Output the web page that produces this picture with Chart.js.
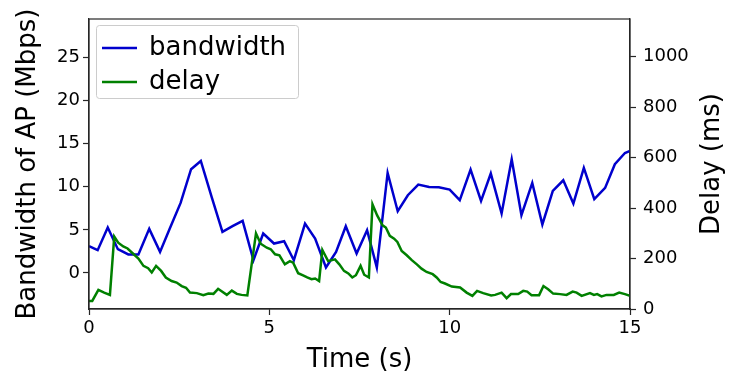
<!DOCTYPE html>
<html>
<head>
<meta charset="utf-8">
<script src="https://cdn.jsdelivr.net/npm/chart.js@4/dist/chart.umd.min.js"></script>
<style>
  html, body { margin: 0; padding: 0; background: #fff; }
  #wrap { position: relative; width: 736px; height: 377px; }
</style>
</head>
<body>
<div id="wrap"><canvas id="chart" width="736" height="377"></canvas></div>
<script>
// --- data ---
const bwTime = [0, 0.24, 0.52, 0.80, 1.09, 1.37, 1.67, 1.97, 2.24, 2.54, 2.83, 3.10, 3.40, 3.70, 3.98, 4.26, 4.56, 4.83, 5.13, 5.41,
  5.68, 5.99, 6.27, 6.57, 6.85, 7.12, 7.42, 7.71, 7.98, 8.28, 8.56, 8.84, 9.13, 9.43, 9.70, 10.00, 10.28, 10.58, 10.87, 11.14,
  11.44, 11.72, 11.99, 12.29, 12.57, 12.86, 13.15, 13.43, 13.72, 14.01, 14.31, 14.58, 14.86, 15.0];
const bandwidth = [3.1, 2.64, 5.27, 2.75, 2.14, 2.14, 5.11, 2.44, 5.15, 8.13, 12.04, 13.0, 8.82, 4.76, 5.42, 6.04, 1.47, 4.57, 3.41, 3.68,
  1.47, 5.73, 3.99, 0.63, 2.44, 5.42, 2.25, 4.96, 0.63, 11.61, 7.16, 9.02, 10.26, 9.98, 9.95, 9.68, 8.44, 12.0, 8.36, 11.54,
  6.9, 13.2, 6.7, 10.45, 5.62, 9.52, 10.76, 8.06, 12.19, 8.56, 9.87, 12.62, 13.93, 14.16];

const delayTime = [0, 0.09, 0.26, 0.42, 0.58, 0.70, 0.81, 0.95, 1.07, 1.21, 1.37, 1.51, 1.64, 1.74, 1.86, 2.00, 2.13, 2.29, 2.43, 2.57,
  2.69, 2.80, 2.99, 3.17, 3.31, 3.45, 3.58, 3.82, 3.96, 4.10, 4.23, 4.39, 4.63, 4.76, 4.93, 5.04, 5.16, 5.28, 5.43, 5.57,
  5.66, 5.80, 5.92, 6.05, 6.17, 6.27, 6.38, 6.47, 6.63, 6.82, 6.94, 7.07, 7.19, 7.30, 7.40, 7.53, 7.63, 7.76, 7.86, 7.99,
  8.14, 8.23, 8.34, 8.46, 8.55, 8.67, 8.81, 8.95, 9.09, 9.22, 9.36, 9.53, 9.64, 9.75, 9.87, 10.06, 10.29, 10.47, 10.63, 10.76,
  10.93, 11.15, 11.26, 11.44, 11.58, 11.70, 11.90, 12.04, 12.15, 12.27, 12.48, 12.60, 12.73, 12.87, 13.06, 13.24, 13.41, 13.52, 13.66, 13.89,
  14.00, 14.09, 14.21, 14.35, 14.55, 14.70, 14.86, 15.00];
const delay = [32, 32, 76, 65, 56, 287, 263, 248, 240, 221, 200, 171, 162, 145, 171, 151, 125, 111, 105, 91,
  84, 65, 63, 55, 61, 60, 80, 56, 73, 60, 56, 54, 300, 259, 243, 237, 217, 213, 177, 190,
  184, 142, 134, 125, 118, 121, 111, 234, 190, 197, 177, 151, 141, 125, 134, 171, 136, 125, 415, 371,
  332, 323, 290, 279, 266, 230, 213, 194, 177, 160, 147, 138, 125, 107, 101, 89, 85, 65, 52, 72,
  63, 54, 56, 65, 43, 59, 59, 72, 69, 55, 55, 91, 78, 61, 59, 56, 69, 65, 52, 63,
  56, 59, 50, 56, 56, 65, 59, 52];

const xTicks = [0, 5, 10, 15];
const bwTicks = [0, 5, 10, 15, 20, 25];
const delayTicks = [0, 200, 400, 600, 800, 1000];

const FONT = "'DejaVu Sans', sans-serif";
const AXIS = '#262626';
const BLUE = '#0000CD';
const GREEN = '#008000';
const TICK_SIZE = 18;
const LABEL_SIZE = 26;

// --- frame, right title, legend ---
const extras = {
  id: 'extras',
  afterDraw(chart) {
    const { ctx, chartArea: a } = chart;
    ctx.save();
    ctx.strokeStyle = AXIS;
    ctx.lineWidth = 1.2;
    ctx.strokeRect(a.left, a.top, a.right - a.left, a.bottom - a.top);

    // right axis title, reading bottom-to-top
    ctx.fillStyle = '#000';
    ctx.font = LABEL_SIZE + 'px ' + FONT;
    ctx.textAlign = 'center';
    ctx.textBaseline = 'middle';
    ctx.translate(712, (a.top + a.bottom) / 2);
    ctx.rotate(-Math.PI / 2);
    ctx.fillText('Delay (ms)', 0, 0);
    ctx.restore();

    // legend
    ctx.save();
    const bx = a.left + 7, by = a.top + 6, bw = 202, bh = 73;
    ctx.fillStyle = 'rgba(255,255,255,0.8)';
    ctx.strokeStyle = '#cccccc';
    ctx.lineWidth = 1;
    ctx.beginPath();
    ctx.roundRect(bx + 0.5, by + 0.5, bw, bh, 3);
    ctx.fill();
    ctx.stroke();
    ctx.font = LABEL_SIZE + 'px ' + FONT;
    ctx.textBaseline = 'middle';
    ctx.textAlign = 'left';
    chart.data.datasets.slice().reverse().forEach((ds, i) => {
      const y = by + 23 + i * 34;
      ctx.strokeStyle = ds.borderColor;
      ctx.lineWidth = 2.5;
      ctx.beginPath();
      ctx.moveTo(bx + 6, y);
      ctx.lineTo(bx + 41, y);
      ctx.stroke();
      ctx.fillStyle = '#000';
      ctx.fillText(ds.label, bx + 53, y);
    });
    ctx.restore();
  }
};

const tickSet = list => scale => { scale.ticks = list.map(v => ({ value: v })); };
const plain = v => String(v);

new Chart(document.getElementById('chart'), {
  type: 'line',
  data: {
    datasets: [
      {
        label: 'delay',
        data: delayTime.map((t, i) => ({ x: t, y: delay[i] })),
        yAxisID: 'yDelay',
        borderColor: GREEN,
        borderWidth: 2.5,
        pointRadius: 0,
        tension: 0,
        order: 0
      },
      {
        label: 'bandwidth',
        data: bwTime.map((t, i) => ({ x: t, y: bandwidth[i] })),
        yAxisID: 'yBw',
        borderColor: BLUE,
        borderWidth: 2.5,
        pointRadius: 0,
        tension: 0,
        order: 1
      }
    ]
  },
  options: {
    responsive: false,
    animation: false,
    layout: { padding: { top: 19, left: 0, right: 0, bottom: 0 } },
    plugins: { legend: { display: false }, tooltip: { enabled: false } },
    scales: {
      x: {
        type: 'linear',
        min: 0, max: 15,
        afterBuildTicks: tickSet(xTicks),
        afterFit: s => { s.height = 68; },
        grid: { drawOnChartArea: false, drawTicks: true, tickLength: 6, color: AXIS, tickWidth: 1.2 },
        border: { display: true, color: AXIS, width: 1.2 },
        ticks: { color: '#000', font: { family: FONT, size: TICK_SIZE }, padding: 3, maxRotation: 0, callback: plain },
        title: { display: true, text: 'Time (s)', color: '#000', font: { family: FONT, size: LABEL_SIZE }, padding: { top: 0, bottom: 1 } }
      },
      yBw: {
        type: 'linear',
        position: 'left',
        min: -4.2, max: 29.5,
        afterBuildTicks: tickSet(bwTicks),
        afterFit: s => { s.width = 89; },
        grid: { drawOnChartArea: false, drawTicks: true, tickLength: 6, color: AXIS, tickWidth: 1.2 },
        border: { display: true, color: AXIS, width: 1.2 },
        ticks: { color: '#000', font: { family: FONT, size: TICK_SIZE }, padding: 3, callback: plain },
        title: { display: true, text: 'Bandwidth of AP (Mbps)', color: '#000', font: { family: FONT, size: LABEL_SIZE }, padding: { top: 13, bottom: 0 } }
      },
      yDelay: {
        type: 'linear',
        position: 'right',
        min: 0, max: 1150,
        afterBuildTicks: tickSet(delayTicks),
        afterFit: s => { s.width = 106; },
        grid: { drawOnChartArea: false, drawTicks: true, tickLength: 6, color: AXIS, tickWidth: 1.2 },
        border: { display: true, color: AXIS, width: 1.2 },
        ticks: { color: '#000', font: { family: FONT, size: TICK_SIZE }, padding: 7, callback: plain }
      }
    }
  },
  plugins: [extras]
});
</script>
</body>
</html>
